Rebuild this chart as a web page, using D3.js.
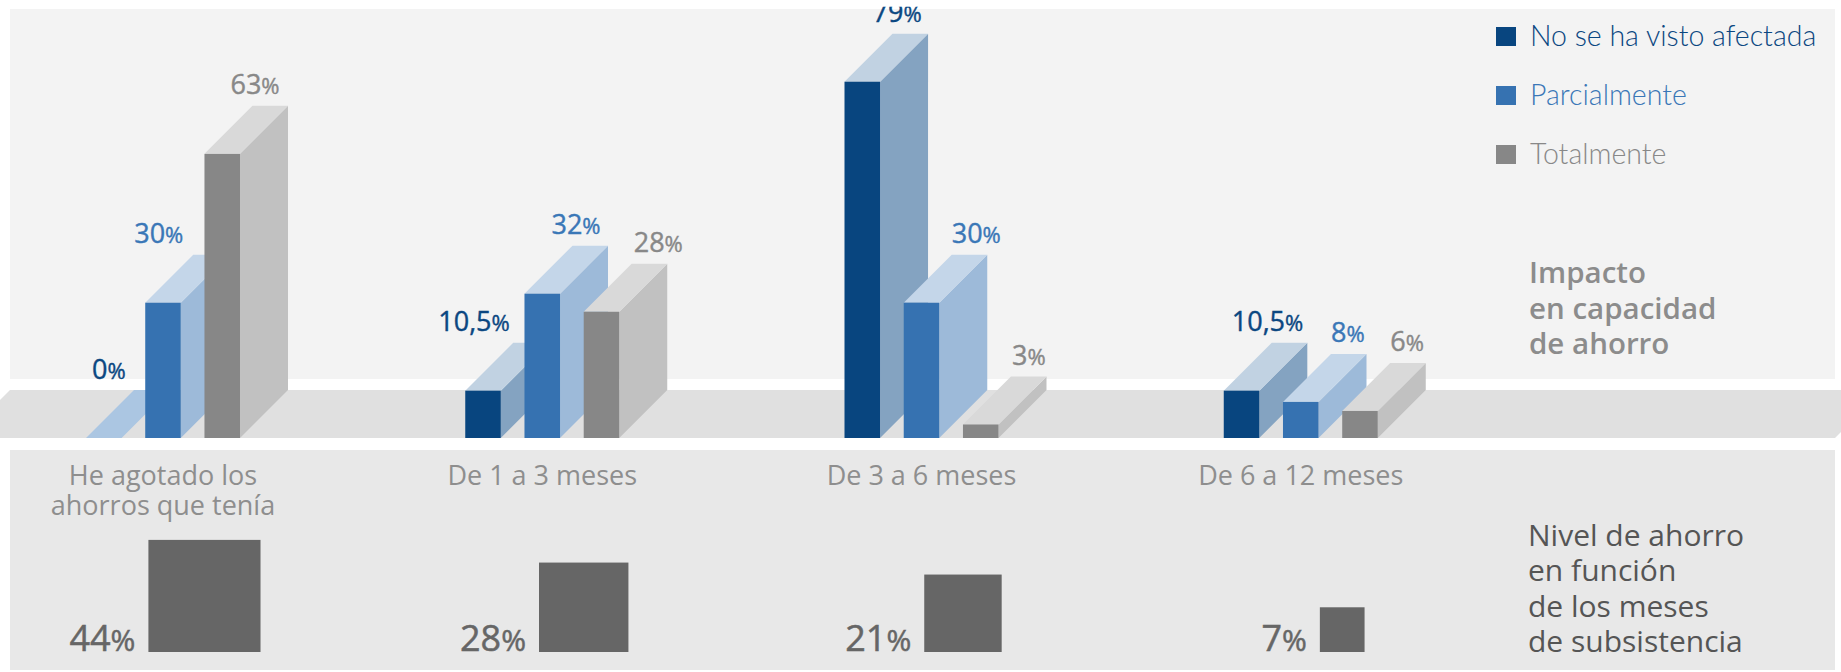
<!DOCTYPE html>
<html><head><meta charset="utf-8">
<script src="https://cdn.jsdelivr.net/npm/d3@7"></script>
<style>html,body{margin:0;padding:0;background:#fff;} svg{display:block;}</style>
</head><body><svg id="c" width="1841" height="672"></svg>
<script>
// ---------- DATA ----------
const categories = ["He agotado los\nahorros que tenía", "De 1 a 3 meses", "De 3 a 6 meses", "De 6 a 12 meses"];
const series = ["No se ha visto afectada", "Parcialmente", "Totalmente"];
const noAfectada = [0, 10.5, 79, 10.5];
const parcialmente = [30, 32, 30, 8];
const totalmente = [63, 28, 3, 6];
const nivelAhorro = [44, 28, 21, 7];
const impactoTitle = ["Impacto", "en capacidad", "de ahorro"];
const nivelTitle = ["Nivel de ahorro", "en función", "de los meses", "de subsistencia"];
const seriesValues = [noAfectada, parcialmente, totalmente];

// ---------- LAYOUT / STYLE ----------
const W = 1841, H = 672;
const depth = 48;
const faceColors = [
  {front: "#08457f", side: "#84a3c1", top: "#c1d2e2", text: "#0b4781"},
  {front: "#3672b1", side: "#9dbad9", top: "#c4d6e9", text: "#3a77b7"},
  {front: "#878787", side: "#c1c1c1", top: "#d9d9d9", text: "#888888"}
];
const zeroTop = "#abc6e2";
// label nudges (px from bar front-left) per category/series
const labelDx = [[6, -11, 26], [-27, 27, 50], [28, 48, 49], [8, 48, 48]];
const valueFont = "'Open Sans', sans-serif";
const fmt = v => String(v).replace(".", ",");

const svg = d3.select("#c");

// panels
svg.append("rect").attr("x", 10).attr("y", 9).attr("width", 1825).attr("height", 370).attr("fill", "#f3f3f3");
svg.append("path").attr("d", "M10,390 L1841,390 L1841,432 L1835,438 L0,438 L0,400 Z").attr("fill", "#e0e0e0");
svg.append("rect").attr("x", 10).attr("y", 450).attr("width", 1825).attr("height", 220).attr("fill", "#e8e8e8");

// scales
const x0 = d3.scaleBand().domain(categories).range([86, 1603]).paddingInner(0).paddingOuter(0);
const x1 = d3.scaleBand().domain(series).range([0, 154]).paddingInner(0.4).paddingOuter(0);
const y = d3.scaleLinear().domain([0, 100]).range([438, -13]);
const bw = x1.bandwidth();
const y0 = y(0);

// 3D bars
const barsG = svg.append("g");
categories.forEach((c, i) => {
  const g = barsG.append("g");
  series.forEach((s, j) => {
    const v = seriesValues[j][i];
    const xl = x0(c) + x1(s), xr = xl + bw, yt = y(v);
    const col = faceColors[j];
    g.append("path")
      .attr("d", `M${xr},${yt} L${xr + depth},${yt - depth} L${xr + depth},${y0 - depth} L${xr},${y0} Z`)
      .attr("fill", col.side);
    g.append("path")
      .attr("d", `M${xl},${yt} L${xl + depth},${yt - depth} L${xr + depth},${yt - depth} L${xr},${yt} Z`)
      .attr("fill", v === 0 ? zeroTop : col.top);
    if (v > 0) {
      g.append("rect").attr("x", xl).attr("y", yt).attr("width", bw).attr("height", y0 - yt).attr("fill", col.front);
    }
  });
});

// value labels
const labG = svg.append("g");
categories.forEach((c, i) => {
  series.forEach((s, j) => {
    const v = seriesValues[j][i];
    const t = labG.append("text")
      .attr("x", x0(c) + x1(s) + labelDx[i][j])
      .attr("y", y(v) - depth - 11.5)
      .attr("fill", faceColors[j].text)
      .attr("stroke", faceColors[j].text)
      .attr("stroke-width", 0.4)
      .attr("font-family", valueFont)
      .attr("font-weight", 500)
      .attr("font-size", 27);
    t.append("tspan").text(fmt(v));
    t.append("tspan").attr("font-size", 22).text("%");
  });
});

// white strip on top (clips the tallest label, as in the original)
svg.append("rect").attr("x", 0).attr("y", 0).attr("width", W).attr("height", 6.7).attr("fill", "#fff");

// legend
const lg = svg.append("g");
series.forEach((s, j) => {
  const by = 46 + j * 59;
  lg.append("rect").attr("x", 1496).attr("y", by - 19).attr("width", 20).attr("height", 19).attr("fill", faceColors[j].front);
  lg.append("text").attr("x", 1530).attr("y", by).attr("fill", faceColors[j].text)
    .attr("font-family", "Lato, sans-serif").attr("font-weight", 300).attr("font-size", 28.5).text(s);
});

// Impacto title
const it = svg.append("text").attr("font-family", "'Open Sans', sans-serif").attr("font-weight", 600)
  .attr("font-size", 29.5).attr("fill", "#8c8c8c");
impactoTitle.forEach((l, k) => it.append("tspan").attr("x", 1529).attr("y", 283 + k * 35.5).text(l));

// category labels
const catG = svg.append("g");
categories.forEach((c) => {
  const cx = x0(c) + x1(series[1]) + bw / 2;
  c.split("\n").forEach((l, k) => catG.append("text").attr("text-anchor", "middle")
    .attr("font-family", "'Open Sans', sans-serif").attr("font-size", 27).attr("fill", "#8e8e8e")
    .attr("x", cx).attr("y", 485 + k * 30).text(l));
});

// savings squares (area proportional to value)
const side = d3.scaleSqrt().domain([0, 100]).range([0, 169]);
const sqBase = 652;
const sqG = svg.append("g");
categories.forEach((c, i) => {
  const v = nivelAhorro[i];
  const cx = x0(c) + x1(series[2]);
  const sz = side(v);
  sqG.append("rect").attr("x", cx - sz / 2).attr("y", sqBase - sz).attr("width", sz).attr("height", sz).attr("fill", "#666666");
  const t = sqG.append("text").attr("x", cx - sz / 2 - 13).attr("y", 651).attr("text-anchor", "end")
    .attr("font-family", "'Open Sans', sans-serif").attr("font-weight", 500).attr("font-size", 36)
    .attr("fill", "#666666").attr("stroke", "#666666").attr("stroke-width", 0.5);
  t.append("tspan").text(fmt(v));
  t.append("tspan").attr("font-size", 30).text("%");
});

// Nivel title
const nt = svg.append("text").attr("font-family", "'Open Sans', sans-serif").attr("font-weight", 500)
  .attr("font-size", 30).attr("fill", "#555555");
nivelTitle.forEach((l, k) => nt.append("tspan").attr("x", 1528).attr("y", 546 + k * 35.3).text(l));
</script>
</body></html>
